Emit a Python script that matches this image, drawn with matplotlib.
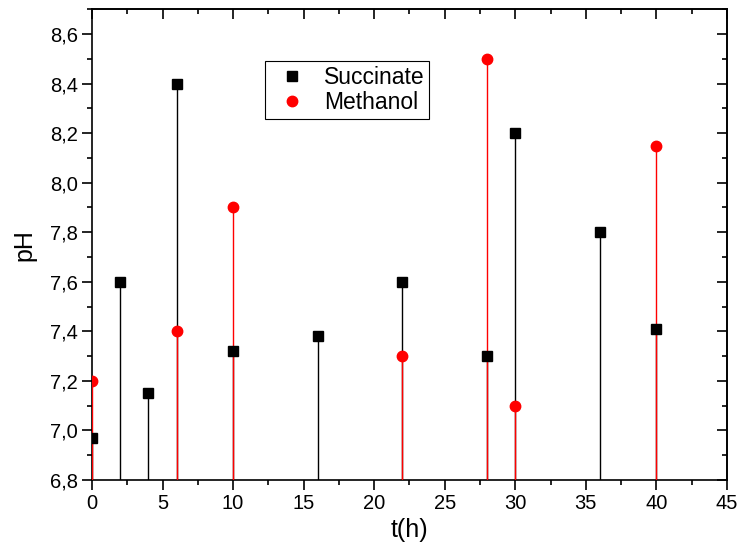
import matplotlib
matplotlib.use('Agg')
import matplotlib.pyplot as plt
from matplotlib.lines import Line2D
from matplotlib.ticker import MultipleLocator, FuncFormatter
import numpy as np

plt.rcParams['font.family'] = ['Liberation Sans', 'DejaVu Sans']

# data
t_succ = [0, 2, 4, 6, 10, 16, 22, 28, 30, 36, 40]
ph_succ = [6.97, 7.6, 7.15, 8.4, 7.32, 7.38, 7.6, 7.3, 8.2, 7.8, 7.41]
t_meth = [0, 6, 10, 22, 28, 30, 40]
ph_meth = [7.2, 7.4, 7.9, 7.3, 8.5, 7.1, 8.15]

ymin, ymax = 6.8, 8.7

fig = plt.figure(figsize=(7.4, 5.56), dpi=100)
ax = fig.add_axes([0.1243, 0.1367, 0.8581, 0.8466])
ax.set_xlim(0, 45)
ax.set_ylim(ymin, ymax)

ax.vlines(t_succ, ymin, ph_succ, colors='black', lw=1, zorder=2)
ax.vlines(t_meth, ymin, ph_meth, colors='red', lw=1, zorder=3)
ax.plot(t_succ, ph_succ, 's', color='black', ms=7, ls='none', zorder=4)
ax.plot(t_meth, ph_meth, 'o', color='red', ms=7.5, ls='none', zorder=5)

comma = FuncFormatter(lambda v, p: f"{v:.1f}".replace('.', ','))
ax.set_xticks(np.arange(0, 46, 5))
ax.xaxis.set_minor_locator(MultipleLocator(2.5))
ax.set_yticks(np.arange(6.8, 8.61, 0.2))
ax.yaxis.set_major_formatter(comma)
ax.yaxis.set_minor_locator(MultipleLocator(0.1))
ax.tick_params(which='major', direction='out', length=7, width=1.2, labelsize=14.5, pad=3)
ax.tick_params(which='minor', direction='out', length=3.5, width=1.2)

# top and right ticks point inward
sx = ax.secondary_xaxis('top')
sx.set_xticks(np.arange(0, 46, 5))
sx.xaxis.set_minor_locator(MultipleLocator(2.5))
sx.tick_params(which='major', direction='in', length=7, width=1.2, labeltop=False)
sx.tick_params(which='minor', direction='in', length=3.5, width=1.2)
sy = ax.secondary_yaxis('right')
sy.set_yticks(np.arange(6.8, 8.61, 0.2))
sy.yaxis.set_minor_locator(MultipleLocator(0.1))
sy.tick_params(which='major', direction='in', length=7, width=1.2, labelright=False)
sy.tick_params(which='minor', direction='in', length=3.5, width=1.2)

for s in list(ax.spines.values()) + [sx.spines['top'], sy.spines['right']]:
    s.set_linewidth(1.2)

ax.set_xlabel('t(h)', fontsize=18, labelpad=4)
ax.set_ylabel('pH', fontsize=18, labelpad=10)

handles = [Line2D([], [], marker='s', color='black', ls='none', ms=7),
           Line2D([], [], marker='o', color='red', ls='none', ms=7.5)]
leg = ax.legend(handles, ['Succinate', 'Methanol'], loc='upper left',
                bbox_to_anchor=(0.272, 0.89), fontsize=16.5, fancybox=False,
                framealpha=1, edgecolor='black', borderpad=0.2,
                handletextpad=0.4, labelspacing=0.1, borderaxespad=0)
leg.get_frame().set_linewidth(0.8)

fig.savefig('out.png', dpi=100)
